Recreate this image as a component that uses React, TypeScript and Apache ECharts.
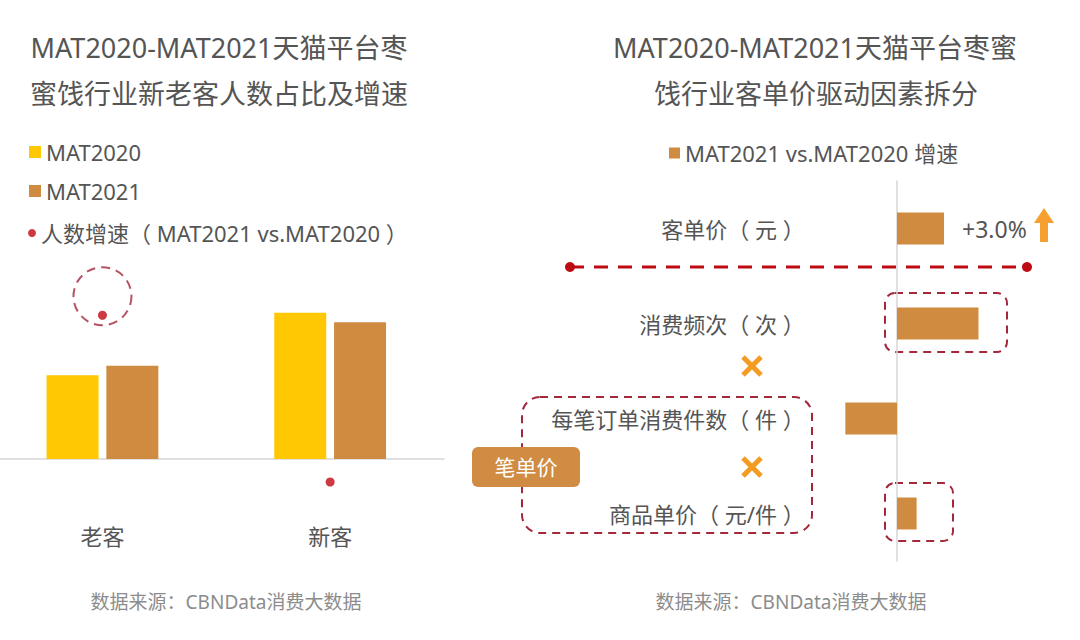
import React, { useEffect, useRef } from "react";
import * as echarts from "echarts";

const FONT = "'Noto Sans', 'Noto Sans CJK SC', sans-serif";

const leftTitle = ["MAT2020-MAT2021天猫平台枣", "蜜饯行业新老客人数占比及增速"];
const rightTitle = ["MAT2020-MAT2021天猫平台枣蜜", "饯行业客单价驱动因素拆分"];
const sourceText = "数据来源：CBNData消费大数据";

const customerTypes = ["老客", "新客"];
const share2020 = [36.4, 63.6];
const share2021 = [40.5, 59.5];
const userGrowth = [25, -4];

const driverCategories = ["客单价（ 元 ）", "消费频次（ 次 ）", "每笔订单消费件数（ 件 ）", "商品单价（ 元/件 ）"];
const driverGrowth = [3.0, 5.2, -3.3, 1.25];
const driverLabel = "+3.0%";

const YELLOW = "#FFC803";
const TAN = "#CF8C40";
const RED = "#BE0A12";
const DASH_RED = "#A3283C";
const ORANGE = "#F39B22";
const TEXT = "#555555";

export default function App() {
  const ref = useRef<HTMLDivElement>(null);
  useEffect(() => {
    if (!ref.current) return;
    const chart = echarts.init(ref.current, undefined, { renderer: "svg" });
    const txt = (text: string, x: number, y: number, size: number, fill: string, align = "center") => ({
      type: "text",
      x,
      y,
      silent: true,
      style: {
        text,
        fill,
        font: `${size}px ${FONT}`,
        align,
        verticalAlign: "middle",
        textAlign: align,
        textVerticalAlign: "middle",
      },
    });
    const dashedRect = (x: number, y: number, w: number, h: number, r: number) => ({
      type: "rect",
      silent: true,
      shape: { x, y, width: w, height: h, r },
      style: { fill: "none", stroke: DASH_RED, lineWidth: 2, lineDash: [8, 6] },
    });
    const cross = (cx: number, cy: number) => ({
      type: "group",
      silent: true,
      children: [
        { type: "line", shape: { x1: cx - 9, y1: cy - 9, x2: cx + 9, y2: cy + 9 }, style: { stroke: ORANGE, lineWidth: 5 } },
        { type: "line", shape: { x1: cx + 9, y1: cy - 9, x2: cx - 9, y2: cy + 9 }, style: { stroke: ORANGE, lineWidth: 5 } },
      ],
    });
    const legendText = { fontSize: 22, color: TEXT, lineHeight: 24, fontFamily: FONT };

    const option: any = {
      animation: false,
      textStyle: { fontFamily: FONT },
      legend: [
        {
          orient: "vertical",
          left: 29,
          top: 140,
          padding: 0,
          itemWidth: 12,
          itemHeight: 12,
          itemGap: 15,
          icon: "rect",
          data: ["MAT2020", "MAT2021"],
          textStyle: legendText,
          selectedMode: false,
        },
        {
          orient: "vertical",
          left: 28,
          top: 221,
          padding: 0,
          itemWidth: 8,
          itemHeight: 8,
          icon: "circle",
          data: ["人数增速（ MAT2021 vs.MAT2020 ）"],
          textStyle: legendText,
          selectedMode: false,
        },
        {
          orient: "horizontal",
          left: 669,
          top: 141,
          padding: 0,
          itemWidth: 11,
          itemHeight: 11,
          icon: "rect",
          data: ["MAT2021 vs.MAT2020 增速"],
          textStyle: legendText,
          selectedMode: false,
        },
      ],
      grid: [
        { left: -11.4, top: 229, width: 455.4, height: 276, outerBoundsMode: "none" },
        { left: 818.7, top: 181, width: 235, height: 380, outerBoundsMode: "none" },
      ],
      xAxis: [
        {
          type: "category",
          gridIndex: 0,
          data: customerTypes,
          axisLine: { lineStyle: { color: "#D6D6D6", width: 1.5 } },
          axisTick: { show: false },
          axisLabel: { margin: 20, fontSize: 22, color: TEXT, fontFamily: FONT },
        },
        { type: "value", gridIndex: 1, min: -5, max: 10, show: false },
      ],
      yAxis: [
        { type: "value", gridIndex: 0, min: -20, max: 100, show: false },
        { type: "value", gridIndex: 0, min: -8, max: 40, show: false },
        {
          type: "category",
          gridIndex: 1,
          inverse: true,
          data: driverCategories,
          axisLine: { lineStyle: { color: "#D6D6D6", width: 1.5 } },
          axisTick: { show: false },
          axisLabel: { margin: 14, fontSize: 22, color: TEXT, fontFamily: FONT },
        },
      ],
      series: [
        {
          name: "MAT2020",
          type: "bar",
          xAxisIndex: 0,
          yAxisIndex: 0,
          data: share2020,
          barWidth: 52,
          barGap: "15%",
          itemStyle: { color: YELLOW },
          silent: true,
        },
        {
          name: "MAT2021",
          type: "bar",
          xAxisIndex: 0,
          yAxisIndex: 0,
          data: share2021,
          barWidth: 52,
          barGap: "15%",
          itemStyle: { color: TAN },
          silent: true,
        },
        {
          name: "人数增速（ MAT2021 vs.MAT2020 ）",
          type: "scatter",
          xAxisIndex: 0,
          yAxisIndex: 1,
          data: userGrowth,
          symbolSize: 9,
          itemStyle: { color: RED },
          silent: true,
        },
        {
          name: "highlight",
          type: "scatter",
          xAxisIndex: 0,
          yAxisIndex: 1,
          data: [userGrowth[0], "-"],
          symbolSize: 58,
          symbolOffset: [0, -19],
          itemStyle: { color: "rgba(0,0,0,0)", borderColor: DASH_RED, borderWidth: 2, borderType: [9, 6] },
          silent: true,
          z: 1,
        },
        {
          name: "MAT2021 vs.MAT2020 增速",
          type: "bar",
          xAxisIndex: 1,
          yAxisIndex: 2,
          barWidth: 32,
          itemStyle: { color: TAN },
          silent: true,
          data: driverGrowth.map((v, i) =>
            i === 0
              ? {
                  value: v,
                  label: {
                    show: true,
                    position: "right",
                    distance: 18,
                    formatter: driverLabel,
                    fontSize: 23,
                    color: TEXT,
                    fontFamily: FONT,
                  },
                }
              : v
          ),
        },
      ],
      graphic: [
        txt(leftTitle[0], 219, 47, 27, "#555555"),
        txt(leftTitle[1], 219, 93, 27, "#555555"),
        txt(rightTitle[0], 815, 47, 27, "#555555"),
        txt(rightTitle[1], 816, 93, 27, "#555555"),
        txt(sourceText, 226, 602, 19, "#8C8C8C"),
        txt(sourceText, 791, 602, 19, "#8C8C8C"),
        {
          type: "line",
          silent: true,
          shape: { x1: 570, y1: 267, x2: 1027, y2: 267 },
          style: { stroke: RED, lineWidth: 3, lineDash: [14, 10] },
        },
        { type: "circle", silent: true, shape: { cx: 570, cy: 267, r: 5 }, style: { fill: RED } },
        { type: "circle", silent: true, shape: { cx: 1027, cy: 267, r: 5 }, style: { fill: RED } },
        dashedRect(885, 293, 122, 59, 10),
        dashedRect(885, 483, 68, 58, 10),
        dashedRect(522, 397, 290, 136, 18),
        {
          type: "rect",
          silent: true,
          shape: { x: 472, y: 447, width: 108, height: 40, r: 6 },
          style: { fill: "#D08C42" },
        },
        txt("笔单价", 526, 467, 21, "#FFFFFF"),
        cross(752, 366),
        cross(752, 467),
        {
          type: "polygon",
          silent: true,
          shape: {
            points: [
              [1044, 208],
              [1054, 223],
              [1048, 223],
              [1048, 242],
              [1040, 242],
              [1040, 223],
              [1034, 223],
            ],
          },
          style: { fill: "#F5A030" },
        },
      ],
    };
    chart.setOption(option);
    return () => chart.dispose();
  }, []);
  return <div ref={ref} style={{ position: "absolute", left: 0, top: 0, width: 1080, height: 640, background: "#fff" }} />;
}
